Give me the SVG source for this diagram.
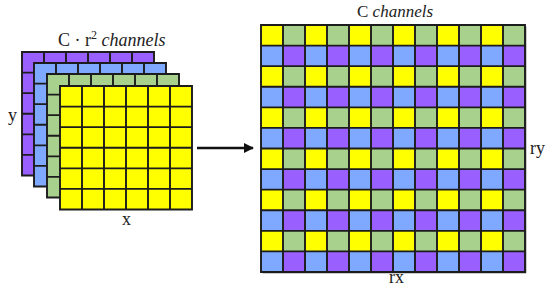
<svg xmlns="http://www.w3.org/2000/svg" width="550" height="291" viewBox="0 0 550 291">
<style>
.lbl{font-family:"Liberation Serif","DejaVu Serif",serif;fill:#222}
.it{font-style:italic}
.grid{fill:none;stroke:#1c1c1c;stroke-width:1.9}
.y{fill:#FFFF00}.g{fill:#A9D18E}.b{fill:#7FA9FF}.p{fill:#9A60FF}
</style>
<defs>
<pattern id="chk" patternUnits="userSpaceOnUse" x="261" y="25" width="44" height="41.1667">
<rect x="0" y="0" width="22" height="20.5833" fill="#FFFF00"/>
<rect x="22" y="0" width="22" height="20.5833" fill="#A9D18E"/>
<rect x="0" y="20.5833" width="22" height="20.5833" fill="#7FA9FF"/>
<rect x="22" y="20.5833" width="22" height="20.5833" fill="#9A60FF"/>
</pattern>
<marker id="ah" markerWidth="10" markerHeight="10" refX="9" refY="5" orient="auto" markerUnits="userSpaceOnUse">
<path d="M0,0 L10,5 L0,10 Z" fill="#111"/>
</marker>
</defs>
<rect width="550" height="291" fill="#fff"/>

<g id="layer-purple">
<rect class="p" x="22" y="52" width="132" height="123.5"/>
<path class="grid" d="M22,52h132v123.5h-132z M44,52v123.5 M66,52v123.5 M88,52v123.5 M110,52v123.5 M132,52v123.5 M22,72.58h132 M22,93.17h132 M22,113.75h132 M22,134.33h132 M22,154.92h132"/>
</g>
<g id="layer-blue">
<rect class="b" x="34" y="63" width="132" height="123.5"/>
<path class="grid" d="M34,63h132v123.5h-132z M56,63v123.5 M78,63v123.5 M100,63v123.5 M122,63v123.5 M144,63v123.5 M34,83.58h132 M34,104.17h132 M34,124.75h132 M34,145.33h132 M34,165.92h132"/>
</g>
<g id="layer-green">
<rect class="g" x="47" y="74" width="132" height="123.5"/>
<path class="grid" d="M47,74h132v123.5h-132z M69,74v123.5 M91,74v123.5 M113,74v123.5 M135,74v123.5 M157,74v123.5 M47,94.58h132 M47,115.17h132 M47,135.75h132 M47,156.33h132 M47,176.92h132"/>
</g>
<g id="layer-yellow">
<rect class="y" x="60" y="86" width="132" height="123.5"/>
<path class="grid" d="M60,86h132v123.5h-132z M82,86v123.5 M104,86v123.5 M126,86v123.5 M148,86v123.5 M170,86v123.5 M60,106.58h132 M60,127.17h132 M60,147.75h132 M60,168.33h132 M60,188.92h132"/>
</g>
<g id="label-left">
<text class="lbl" x="58" y="46" font-size="18">C · r<tspan font-size="12" dy="-7">2</tspan><tspan dy="7"> </tspan><tspan class="it">channels</tspan></text>
<text class="lbl" x="8" y="121" font-size="18">y</text>
<text class="lbl" x="122" y="225" font-size="18">x</text>
</g>

<g id="output-grid">
<rect x="262.5" y="26.5" width="264" height="247" fill="#9a9a9a"/>
<rect x="261" y="25" width="264" height="247" fill="url(#chk)"/>
<path class="grid" d="M261,25h264v247h-264z M283,25v247 M305,25v247 M327,25v247 M349,25v247 M371,25v247 M393,25v247 M415,25v247 M437,25v247 M459,25v247 M481,25v247 M503,25v247 M261,45.58h264 M261,66.17h264 M261,86.75h264 M261,107.33h264 M261,127.92h264 M261,148.5h264 M261,169.08h264 M261,189.67h264 M261,210.25h264 M261,230.83h264 M261,251.42h264"/>
</g>
<g id="label-right">
<text class="lbl" x="357" y="17" font-size="17">C <tspan class="it">channels</tspan></text>
<text class="lbl" x="530" y="154" font-size="18">ry</text>
<text class="lbl" x="389" y="283" font-size="18">rx</text>
</g>

<g id="connectors">
<line x1="197" y1="148" x2="253" y2="148" stroke="#111" stroke-width="2.5" marker-end="url(#ah)"/>
</g>
</svg>
